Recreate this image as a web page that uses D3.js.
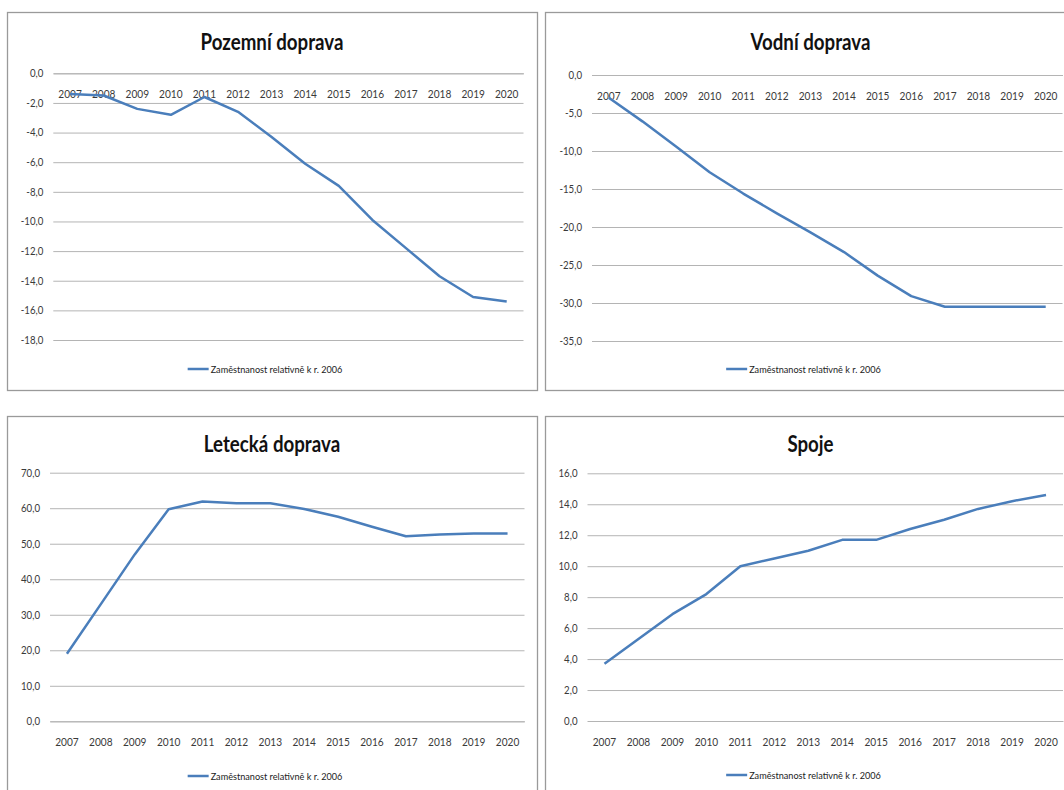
<!DOCTYPE html>
<html>
<head>
<meta charset="utf-8">
<script src="https://cdn.jsdelivr.net/npm/d3@7"></script>
<style>
  html, body { margin: 0; padding: 0; background: #fff; }
  svg { display: block; }
  text { font-family: Lato, "Open Sans", sans-serif; }
</style>
</head>
<body>
<svg id="chart" width="1064" height="790"></svg>
<script>
// Years on the category axis
const years = ["2007","2008","2009","2010","2011","2012","2013","2014","2015","2016","2017","2018","2019","2020"];

// Employment change relative to 2006 (%), one series per sector
const pozemniDoprava = [-1.4, -1.5, -2.4, -2.8, -1.6, -2.6, -4.3, -6.1, -7.6, -9.9, -11.8, -13.7, -15.1, -15.4];
const vodniDoprava   = [-3.0, -6.1, -9.4, -12.8, -15.6, -18.2, -20.7, -23.3, -26.4, -29.1, -30.5, -30.5, -30.5, -30.5];
const leteckaDoprava = [19.0, 33.0, 47.0, 59.7, 61.9, 61.4, 61.4, 59.8, 57.6, 54.8, 52.1, 52.6, 52.9, 52.9];
const spoje          = [3.7, 5.3, 6.9, 8.2, 10.0, 10.5, 11.0, 11.7, 11.7, 12.4, 13.0, 13.7, 14.2, 14.6];

// Value-axis ticks per panel
const ticksPozemni = [0, -2, -4, -6, -8, -10, -12, -14, -16, -18];
const ticksVodni   = [0, -5, -10, -15, -20, -25, -30, -35];
const ticksLetecka = [0, 10, 20, 30, 40, 50, 60, 70];
const ticksSpoje   = [0, 2, 4, 6, 8, 10, 12, 14, 16];

const titles = ["Pozemní doprava", "Vodní doprava", "Letecká doprava", "Spoje"];
const legendLabel = "Zaměstnanost relativně k r. 2006";

const panels = [
  { title: titles[0], values: pozemniDoprava, ticks: ticksPozemni,
    box: { x: 7, y: 12, w: 530, h: 378 }, plot: { l: 46.3, r: 516.5, t: 61.3, b: 328 },
    titleY: 38, legendY: 357 },
  { title: titles[1], values: vodniDoprava, ticks: ticksVodni,
    box: { x: 545, y: 12, w: 531, h: 378 }, plot: { l: 47, r: 517.5, t: 63, b: 329 },
    titleY: 38, legendY: 357 },
  { title: titles[2], values: leteckaDoprava, ticks: ticksLetecka,
    box: { x: 7, y: 416, w: 530, h: 378 }, plot: { l: 43, r: 517.5, t: 56.7, b: 305.3 },
    titleY: 36, legendY: 360 },
  { title: titles[3], values: spoje, ticks: ticksSpoje,
    box: { x: 545, y: 416, w: 531, h: 378 }, plot: { l: 42.5, r: 518, t: 57.3, b: 305 },
    titleY: 36, legendY: 359 }
];

const lineColor = "#4a7ebb";
const gridColor = "#b4b4b4";
const labelColor = "#3a3a3a";
const fmt = v => d3.format(".1f")(v).replace(".", ",").replace("−", "-");

// narrow the glyphs a little so the lettering has a condensed look
function condense(sel, factor) {
  sel.each(function () {
    const w = this.getComputedTextLength();
    d3.select(this).attr("textLength", w * factor).attr("lengthAdjust", "spacingAndGlyphs");
  });
}

const svg = d3.select("#chart");

panels.forEach(p => {
  const g = svg.append("g").attr("transform", `translate(${p.box.x},${p.box.y})`);

  // chart frame
  g.append("rect")
    .attr("x", 0.5).attr("y", 0.5)
    .attr("width", p.box.w).attr("height", p.box.h)
    .attr("fill", "#fff").attr("stroke", "#9a9a9a").attr("stroke-width", 1.3);

  // title
  const t = g.append("text")
    .attr("x", p.box.w / 2).attr("y", p.titleY)
    .attr("text-anchor", "middle")
    .attr("font-size", 22).attr("font-weight", 700)
    .attr("fill", "#111")
    .text(p.title);
  condense(t, 0.85);

  const x = d3.scaleBand().domain(years).range([p.plot.l, p.plot.r]);
  const y = d3.scaleLinear()
    .domain([d3.min(p.ticks), d3.max(p.ticks)])
    .range([p.plot.b, p.plot.t]);

  // horizontal gridlines + value labels
  const yAxis = d3.axisLeft(y).tickValues(p.ticks).tickFormat(fmt)
    .tickSize(-(p.plot.r - p.plot.l)).tickPadding(10);
  const ya = g.append("g").attr("transform", `translate(${p.plot.l},0)`).call(yAxis);
  ya.select(".domain").remove();
  ya.selectAll(".tick line").attr("stroke", gridColor).attr("stroke-width", 1);
  ya.selectAll(".tick text").attr("fill", labelColor).attr("font-size", 10.5);
  condense(ya.selectAll(".tick text"), 0.92);

  // category axis crossing at 0
  const xAxis = d3.axisBottom(x).tickSize(0).tickPadding(17);
  const xa = g.append("g").attr("transform", `translate(0,${y(0)})`).call(xAxis);
  xa.select(".domain").attr("stroke", gridColor);
  xa.selectAll(".tick text").attr("fill", labelColor).attr("font-size", 11);
  condense(xa.selectAll(".tick text"), 0.92);

  // series line
  const line = d3.line()
    .x((d, i) => x(years[i]) + x.bandwidth() / 2)
    .y(d => y(d));
  g.append("path")
    .datum(p.values)
    .attr("d", line)
    .attr("fill", "none")
    .attr("stroke", lineColor)
    .attr("stroke-width", 2.5)
    .attr("stroke-linejoin", "round");

  // legend
  const lg = g.append("g");
  lg.append("line")
    .attr("x1", 0).attr("x2", 21).attr("y1", 0).attr("y2", 0)
    .attr("stroke", lineColor).attr("stroke-width", 2.5);
  const lt = lg.append("text")
    .attr("x", 23).attr("y", 3.5)
    .attr("font-size", 9.5).attr("fill", "#222")
    .text(legendLabel);
  condense(lt, 0.96);
  const lw = 23 + (+lt.attr("textLength"));
  lg.attr("transform", `translate(${p.box.w / 2 - 7 - lw / 2},${p.legendY})`);
});
</script>
</body>
</html>
